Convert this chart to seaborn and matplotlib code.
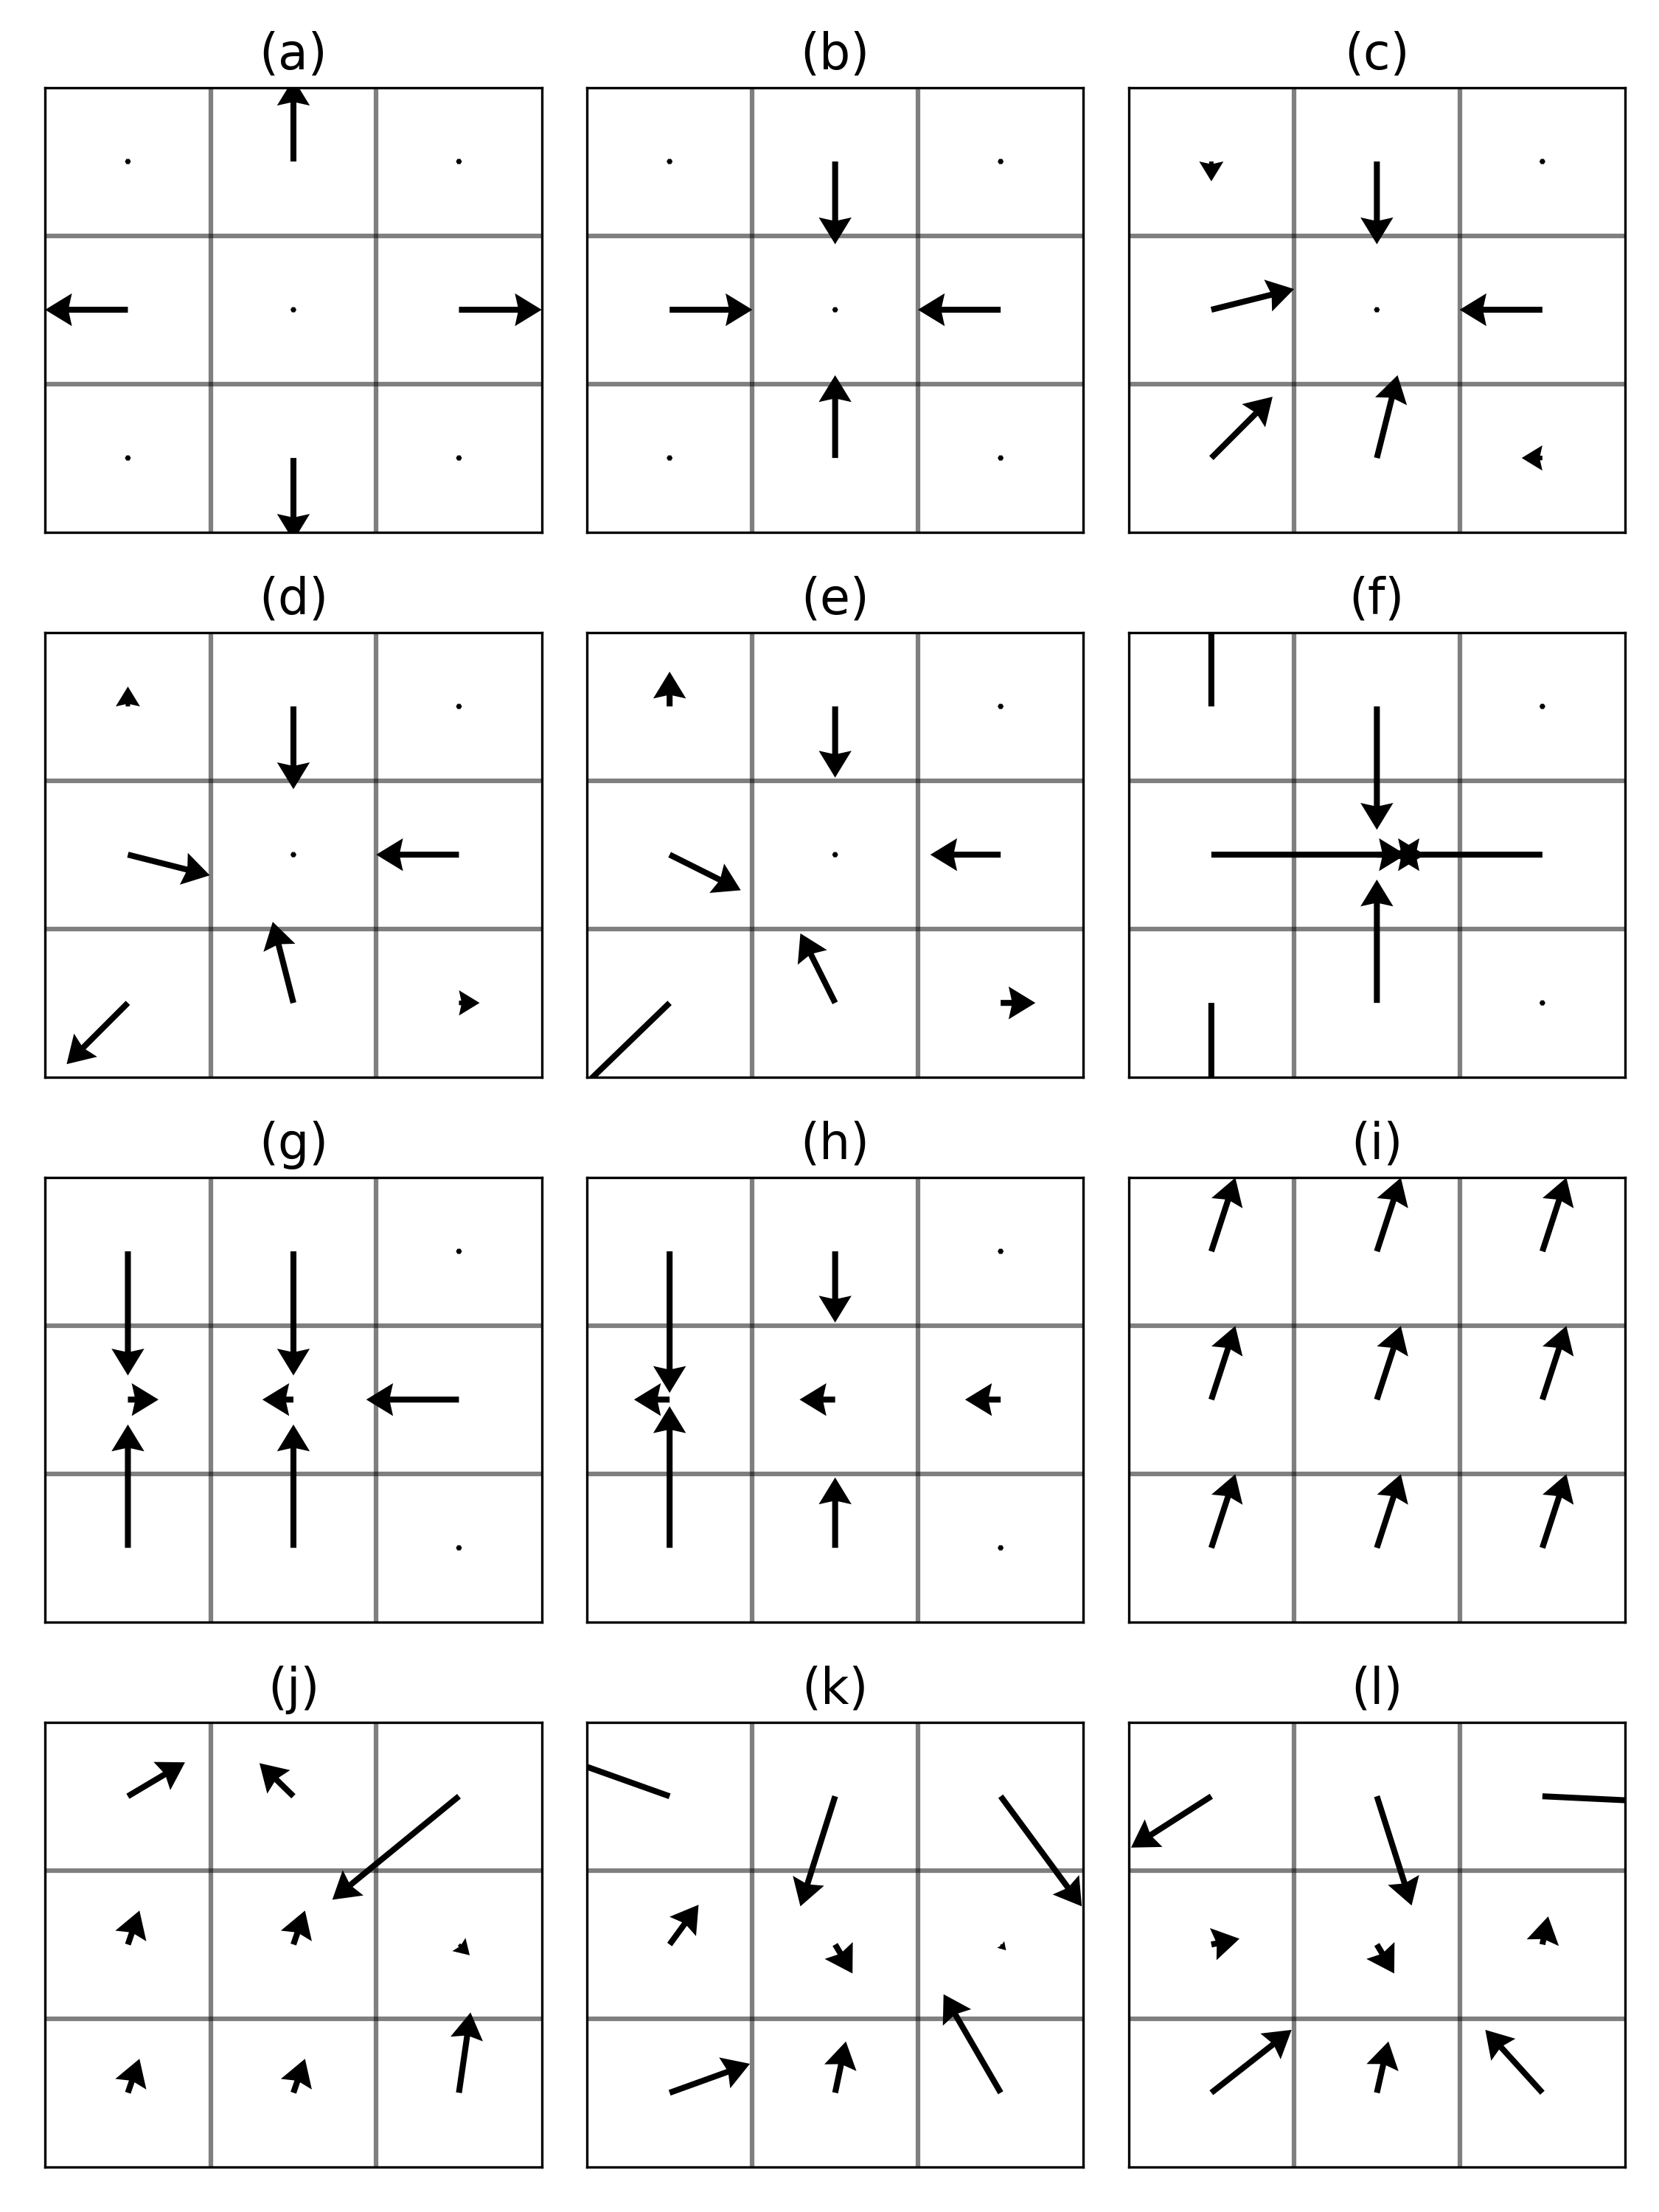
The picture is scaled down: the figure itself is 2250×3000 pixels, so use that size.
import numpy as np
import matplotlib
matplotlib.use("Agg")
import matplotlib.pyplot as plt
import seaborn as sns

sns.set_style("white", {"axes.edgecolor": "black", "axes.linewidth": 1.0,
                        "text.color": "black"})
plt.rcParams["font.family"] = ["DejaVu Sans"]

# panel titles
titles = ["(a)", "(b)", "(c)", "(d)", "(e)", "(f)",
          "(g)", "(h)", "(i)", "(j)", "(k)", "(l)"]

# vectors per cell, row by row from the top-left cell
U_a = [0, 0, 0, -1, 0, 1, 0, 0, 0]
V_a = [0, 1, 0, 0, 0, 0, 0, -1, 0]
U_b = [0, 0, 0, 1, 0, -1, 0, 0, 0]
V_b = [0, -1, 0, 0, 0, 0, 0, 1, 0]
U_c = [0, 0, 0, 1.0, 0, -1.0, 0.74, 0.25, -0.25]
V_c = [-0.24, -1.0, 0, 0.25, 0, 0, 0.74, 1.0, 0]
U_d = [0, 0, 0, 0.99, 0, -1.0, -0.74, -0.25, 0.25]
V_d = [0.24, -1.0, 0, -0.25, 0, 0, -0.74, 0.98, 0]
U_e = [0, 0, 0, 0.86, 0, -0.85, -1.5, -0.42, 0.42]
V_e = [0.42, -0.86, 0, -0.43, 0, 0, -1.45, 0.84, 0]
U_f = [0, 0, 0, 2.58, 0.35, -1.81, 0, 0, 0]
V_f = [1.5, -1.49, 0, 0, 0, 0, -1.5, 1.49, 0]
U_g = [0, 0, 0, 0.37, -0.375, -1.12, 0, 0, 0]
V_g = [-1.5, -1.5, 0, 0, 0, 0, 1.49, 1.49, 0]
U_h = [0, 0, 0, -0.43, -0.43, -0.43, 0, 0, 0]
V_h = [-1.71, -0.86, 0, 0, 0, 0, 1.71, 0.85, 0]
U_i = [0.29] * 9
V_i = [0.89] * 9
U_j = [0.69, -0.41, -1.53, 0.14, 0.14, 0.13, 0.14, 0.14, 0.14]
V_j = [0.41, 0.40, -1.25, 0.41, 0.41, -0.13, 0.41, 0.41, 0.97]
U_k = [-1.6, -0.42, 0.98, 0.35, 0.21, 0.065, 0.97, 0.13, -0.69]
V_k = [0.57, -1.33, -1.33, 0.48, -0.35, -0.07, 0.35, 0.62, 1.19]
U_l = [-0.97, 0.42, 1.6, 0.34, 0.21, 0.07, 0.97, 0.14, -0.69]
V_l = [-0.62, -1.32, -0.077, 0.07, -0.35, 0.34, 0.76, 0.62, 0.76]

Us = [U_a, U_b, U_c, U_d, U_e, U_f, U_g, U_h, U_i, U_j, U_k, U_l]
Vs = [V_a, V_b, V_c, V_d, V_e, V_f, V_g, V_h, V_i, V_j, V_k, V_l]

# cell centres of the 3x3 grid
xx, yy = np.meshgrid([0.5, 1.5, 2.5], [2.5, 1.5, 0.5])
X = xx.ravel()
Y = yy.ravel()

fig, axes = plt.subplots(4, 3, figsize=(7.5, 10), dpi=300)
fig.subplots_adjust(left=0.0272, right=0.9796, bottom=0.0204, top=0.9605,
                    wspace=0.0909, hspace=0.2253)

for ax, t, U, V in zip(axes.ravel(), titles, Us, Vs):
    for g in [1, 2]:
        ax.axvline(g, color="k", alpha=0.5, lw=1.5, zorder=1)
        ax.axhline(g, color="k", alpha=0.5, lw=1.5, zorder=1)
    ax.quiver(X, Y, U, V, angles="uv", scale_units="width", scale=6,
              width=0.012, headwidth=5.5, headlength=4.5, headaxislength=4,
              color="k", zorder=3)
    ax.set_xlim(0, 3)
    ax.set_ylim(0, 3)
    ax.set_xticks([])
    ax.set_yticks([])
    ax.set_title(t, fontsize=16)

fig.savefig("out.png", dpi=300)
